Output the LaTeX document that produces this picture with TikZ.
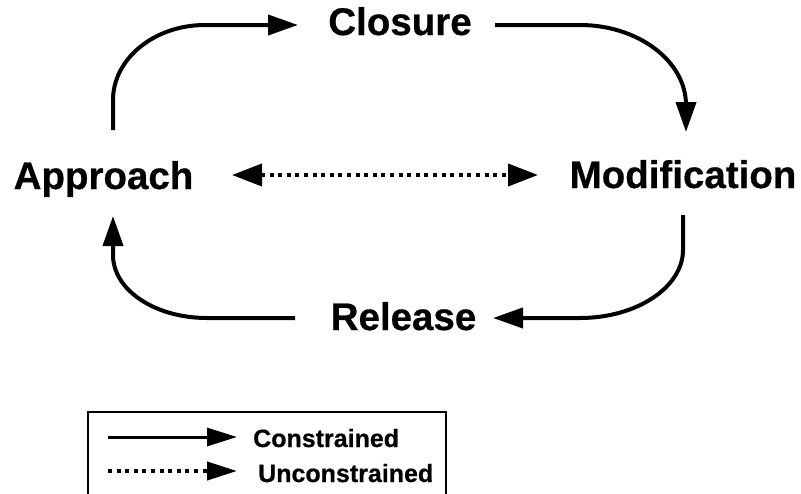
\documentclass[tikz,border=0pt]{standalone}
\usepackage{fontspec}
\setmainfont{Liberation Sans}
\newfontfamily\heavyfont[FakeBold=0.6]{Liberation Sans}
\usetikzlibrary{arrows.meta,calc}
\begin{document}
\begin{tikzpicture}[x=1pt,y=-1pt,
  lbl/.style={font=\heavyfont\bfseries\fontsize{38.5}{40}\selectfont, inner sep=0pt, anchor=base},
  leg/.style={font=\heavyfont\bfseries\fontsize{25}{28}\selectfont, inner sep=0pt, anchor=base west},
  conn/.style={line width=4pt, -{Triangle[length=30pt,width=20pt]}},
  free/.style={line width=4pt, dash pattern=on 4pt off 4.6pt,
    {Triangle[length=30pt,width=22pt]}-{Triangle[length=30pt,width=22pt]}},
  legsolid/.style={line width=3pt, -{Triangle[length=30pt,width=18pt]}},
  legdot/.style={line width=4pt, dash pattern=on 4pt off 4.6pt, -{Triangle[length=30pt,width=18pt]}},
]
\clip (0,0) rectangle (801,493);
\fill[white] (0,0) rectangle (801,493);

% the four phases
\node[lbl] (clo) at (400,35)    {Closure};
\node[lbl] (app) at (103.5,189) {Approach};
\node[lbl] (mod) at (683,188)   {Modification};
\node[lbl] (rel) at (403.5,330) {Release};

% Approach -> Closure
\draw[conn] ($(app.base)+(9.5,-59)$) -- ($(app.base)+(9.5,-89)$)
  .. controls ($(app.base)+(9.5,-130)$) and ($(clo.base)+(-246,-10)$) .. ($(clo.base)+(-195,-10)$)
  -- ($(clo.base)+(-102,-10)$);

% Closure -> Modification
\draw[conn] ($(clo.base)+(95,-10)$) -- ($(clo.base)+(180,-10)$)
  .. controls ($(clo.base)+(238,-10)$) and ($(mod.base)+(3,-127)$) .. ($(mod.base)+(3,-83)$)
  -- ($(mod.base)+(3,-56)$);

% Modification -> Release
\draw[conn] ($(mod.base)+(0,27)$) -- ($(mod.base)+(0,62)$)
  .. controls ($(mod.base)+(0,99)$) and ($(rel.base)+(233.5,-12)$) .. ($(rel.base)+(176.5,-12)$)
  -- ($(rel.base)+(89.5,-12)$);

% Release -> Approach
\draw[conn] ($(rel.base)+(-108.5,-12)$) -- ($(rel.base)+(-196.5,-12)$)
  .. controls ($(rel.base)+(-248.5,-12)$) and ($(app.base)+(9.5,101)$) .. ($(app.base)+(9.5,66)$)
  -- ($(app.base)+(9.5,27)$);

% Approach <-> Modification
\draw[free] ($(app.base)+(128.5,-14)$) -- ($(mod.base)+(-145,-13)$);

% legend
\draw[line width=2pt] (88,500) -- (88,412) -- (446,412) -- (446,500);
\node[leg] (lc) at (253,447) {Constrained};
\node[leg] (lu) at (258,482) {Unconstrained};
\coordinate (lcs) at (108,437);
\coordinate (lus) at (108,471);
\draw[legsolid] (lcs) -- ($(lc.base west)+(-16,-10)$);
\draw[legdot] (lus) -- ($(lu.base west)+(-21,-11)$);
\end{tikzpicture}
\end{document}
